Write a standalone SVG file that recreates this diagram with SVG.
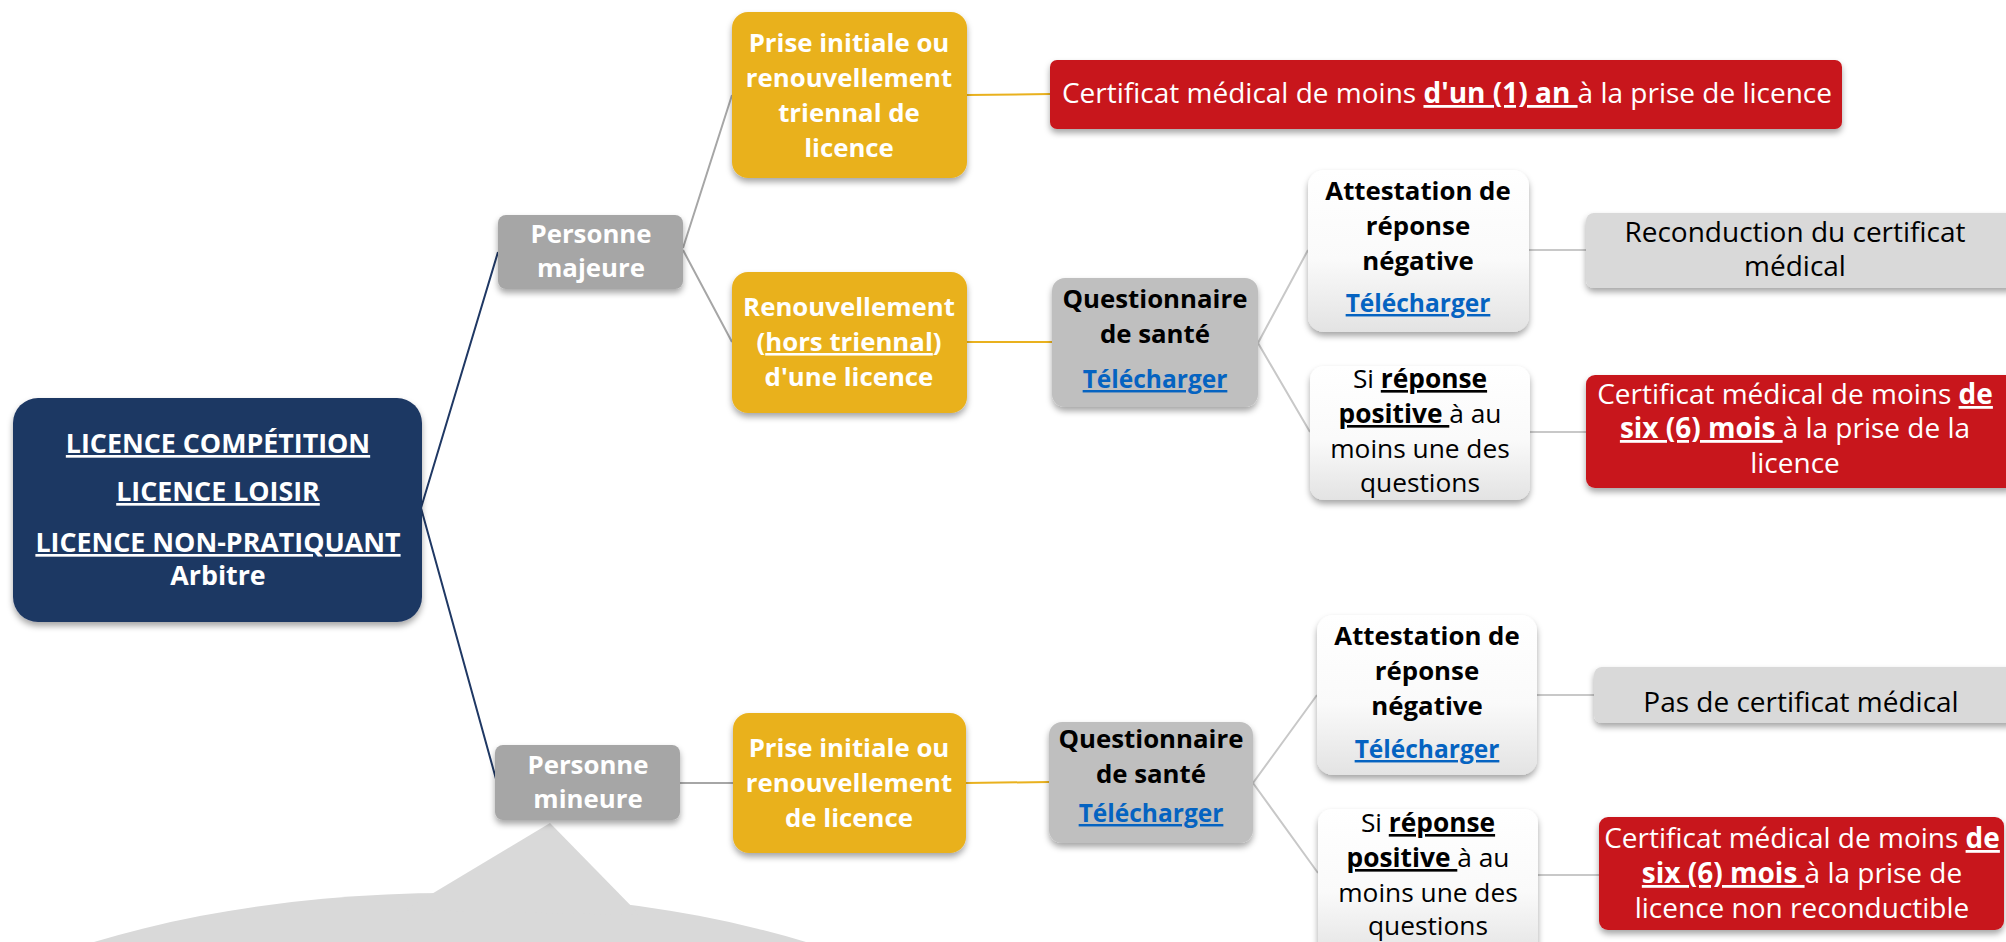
<svg xmlns="http://www.w3.org/2000/svg" width="2006" height="942" viewBox="0 0 2006 942">
<defs>
<filter id="sh" x="-10%" y="-10%" width="120%" height="130%">
<feDropShadow dx="0" dy="4" stdDeviation="3" flood-color="#000" flood-opacity="0.35"/>
</filter>
<linearGradient id="wg" x1="0" y1="0" x2="0" y2="1">
<stop offset="0" stop-color="#FFFFFF"/>
<stop offset="0.55" stop-color="#FAFAFA"/>
<stop offset="1" stop-color="#E3E3E3"/>
</linearGradient>
<style>
.t{font-family:"Open Sans","Liberation Sans",sans-serif;text-anchor:middle}
.b{font-weight:700}
.w{fill:#FFFFFF}
.k{fill:#000000}
.u{text-decoration:underline}
.lk{fill:#0563C1;font-weight:700;text-decoration:underline}
.s26{font-size:26.8px}
.s25{font-size:25.8px}
.s24{font-size:24.5px}
.s27{font-size:28px}
.s25r{font-size:26.3px}
.navy{fill:#1F3864}
.yel{fill:#E9B11E}
.red{fill:#C8191F}
.gp{fill:#A6A6A6}
.gq{fill:#BFBFBF}
.gl{fill:#D9D9D9}
.wb{fill:url(#wg)}
.c{fill:none;stroke-width:2}
</style>
</defs>
<rect width="2006" height="942" fill="#FFFFFF"/>

<g id="callout">
<ellipse cx="450" cy="1193" rx="650" ry="300" fill="#D9D9D9"/>
<polygon points="550,823 405,910 640,915" fill="#D9D9D9"/>
</g>

<g id="connectors">
<path class="c" stroke="#1F3864" d="M421,508 L498,252 M421,508 L496,779"/>
<path class="c" stroke="#A6A6A6" d="M683,248 L732,95 M683,250 L732,342 M680,783 L733,783"/>
<path class="c" stroke="#E9B11E" d="M967,95 L1050,94 M967,342 L1052,342 M966,783 L1049,782"/>
<path class="c" stroke="#C8C8C8" d="M1258,343 L1308,250 M1258,343 L1310,432 M1529,250 L1586,250 M1530,432 L1586,432 M1253,783 L1317,695 M1253,783 L1318,873 M1537,695 L1594,695 M1538,875 L1599,875"/>
</g>

<g id="root">
<rect x="13" y="398" width="409" height="224" rx="25" class="navy" filter="url(#sh)"/>
<text class="t b w s26"><tspan class="u" x="218" y="453">LICENCE COMPÉTITION</tspan><tspan class="u" x="218" y="501">LICENCE LOISIR</tspan><tspan class="u" x="218" y="552">LICENCE NON-PRATIQUANT</tspan><tspan x="218" y="585">Arbitre</tspan></text>
</g>

<g id="majeure">
<rect x="498" y="215" width="185" height="74" rx="8" class="gp" filter="url(#sh)"/>
<text class="t b w s25"><tspan x="591" y="243">Personne</tspan><tspan x="591" y="277">majeure</tspan></text>
</g>

<g id="mineure">
<rect x="495" y="745" width="185" height="75" rx="8" class="gp" filter="url(#sh)"/>
<text class="t b w s25"><tspan x="588" y="774">Personne</tspan><tspan x="588" y="808">mineure</tspan></text>
</g>

<g id="prise-triennal">
<rect x="732" y="12" width="235" height="166" rx="16" class="yel" filter="url(#sh)"/>
<text class="t b w s25"><tspan x="849" y="52">Prise initiale ou</tspan><tspan x="849" y="87">renouvellement</tspan><tspan x="849" y="122">triennal de</tspan><tspan x="849" y="157">licence</tspan></text>
</g>

<g id="cert-1an">
<rect x="1050" y="60" width="792" height="69" rx="7" class="red" filter="url(#sh)"/>
<text class="t w s27" x="1447" y="103">Certificat médical de moins <tspan class="b u">d'un (1) an </tspan>à la prise de licence</text>
</g>

<g id="renouvellement">
<rect x="732" y="272" width="235" height="141" rx="16" class="yel" filter="url(#sh)"/>
<text class="t b w s25"><tspan x="849" y="316">Renouvellement</tspan><tspan x="849" y="351">(<tspan class="u">hors triennal</tspan>)</tspan><tspan x="849" y="386">d'une licence</tspan></text>
</g>

<g id="questionnaire-1">
<rect x="1052" y="278" width="206" height="129" rx="13" class="gq" filter="url(#sh)"/>
<text class="t b k s25"><tspan x="1155" y="308">Questionnaire</tspan><tspan x="1155" y="343">de santé</tspan></text>
<text class="t lk s24" x="1155" y="388">Télécharger</text>
</g>

<g id="attestation-1">
<rect x="1308" y="170" width="221" height="162" rx="16" class="wb" filter="url(#sh)"/>
<text class="t b k s25"><tspan x="1418" y="200">Attestation de</tspan><tspan x="1418" y="235">réponse</tspan><tspan x="1418" y="270">négative</tspan></text>
<text class="t lk s24" x="1418" y="312">Télécharger</text>
</g>

<g id="reconduction">
<rect x="1586" y="213" width="430" height="75" rx="8" class="gl" filter="url(#sh)"/>
<text class="t k s27"><tspan x="1795" y="242">Reconduction du certificat</tspan><tspan x="1795" y="276">médical</tspan></text>
</g>

<g id="positive-1">
<rect x="1310" y="366" width="220" height="134" rx="14" class="wb" filter="url(#sh)"/>
<text class="t k s25r"><tspan x="1420" y="388">Si <tspan class="b u">réponse</tspan></tspan><tspan x="1420" y="423"><tspan class="b u">positive </tspan>à au</tspan><tspan x="1420" y="458">moins une des</tspan><tspan x="1420" y="492">questions</tspan></text>
</g>

<g id="cert-6mois-1">
<rect x="1586" y="375" width="430" height="113" rx="9" class="red" filter="url(#sh)"/>
<text class="t w s27"><tspan x="1795" y="404">Certificat médical de moins <tspan class="b u">de</tspan></tspan><tspan x="1795" y="438"><tspan class="b u">six (6) mois </tspan>à la prise de la</tspan><tspan x="1795" y="473">licence</tspan></text>
</g>

<g id="prise-mineur">
<rect x="733" y="713" width="233" height="140" rx="16" class="yel" filter="url(#sh)"/>
<text class="t b w s25"><tspan x="849" y="757">Prise initiale ou</tspan><tspan x="849" y="792">renouvellement</tspan><tspan x="849" y="827">de licence</tspan></text>
</g>

<g id="questionnaire-2">
<rect x="1049" y="722" width="204" height="121" rx="13" class="gq" filter="url(#sh)"/>
<text class="t b k s25"><tspan x="1151" y="748">Questionnaire</tspan><tspan x="1151" y="783">de santé</tspan></text>
<text class="t lk s24" x="1151" y="822">Télécharger</text>
</g>

<g id="attestation-2">
<rect x="1317" y="615" width="220" height="160" rx="16" class="wb" filter="url(#sh)"/>
<text class="t b k s25"><tspan x="1427" y="645">Attestation de</tspan><tspan x="1427" y="680">réponse</tspan><tspan x="1427" y="715">négative</tspan></text>
<text class="t lk s24" x="1427" y="758">Télécharger</text>
</g>

<g id="pas-certificat">
<rect x="1594" y="667" width="422" height="56" rx="8" class="gl" filter="url(#sh)"/>
<text class="t k s27" x="1801" y="712">Pas de certificat médical</text>
</g>

<g id="positive-2">
<rect x="1318" y="809" width="220" height="150" rx="14" class="wb" filter="url(#sh)"/>
<text class="t k s25r"><tspan x="1428" y="832">Si <tspan class="b u">réponse</tspan></tspan><tspan x="1428" y="867"><tspan class="b u">positive </tspan>à au</tspan><tspan x="1428" y="902">moins une des</tspan><tspan x="1428" y="935">questions</tspan></text>
</g>

<g id="cert-6mois-2">
<rect x="1599" y="817" width="405" height="113" rx="9" class="red" filter="url(#sh)"/>
<text class="t w s27"><tspan x="1802" y="848">Certificat médical de moins <tspan class="b u">de</tspan></tspan><tspan x="1802" y="883"><tspan class="b u">six (6) mois </tspan>à la prise de</tspan><tspan x="1802" y="918">licence non reconductible</tspan></text>
</g>
</svg>
